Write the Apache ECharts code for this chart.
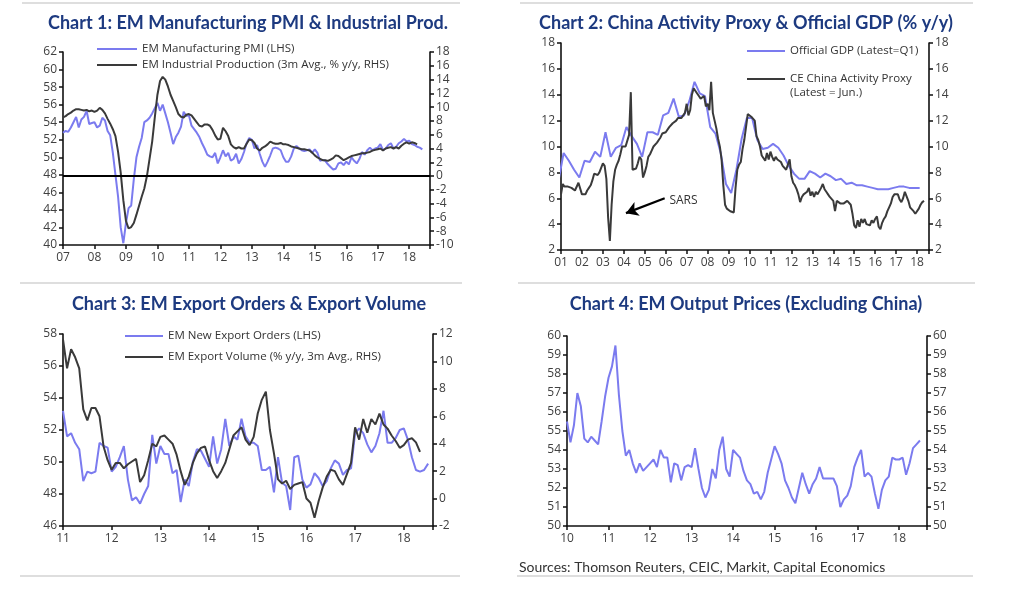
<!DOCTYPE html>
<html>
<head>
<meta charset="utf-8">
<script src="https://cdn.jsdelivr.net/npm/echarts@6/dist/echarts.min.js"></script>
<style>
html,body{margin:0;padding:0;background:#fff;}
#chart{width:1019px;height:596px;}
</style>
</head>
<body>
<div id="chart"></div>
<script>
// ---------- DATA ----------
// Chart 1 (monthly from Jan 2007)
const pmiStart = 2007;
const emPMI = [
 52.8,53.0,52.9,53.4,54.0,54.6,53.4,54.3,54.6,55.3,53.8,53.9,
 54.0,53.4,53.6,54.5,54.2,53.0,52.5,50.5,48.0,45.5,42.0,40.2,
 42.5,44.2,44.5,47.5,50.0,51.2,52.2,54.0,54.2,54.5,55.0,55.6,
 56.2,55.3,56.0,55.0,54.0,52.8,51.5,52.3,52.8,53.5,55.2,54.7,
 54.8,53.6,53.2,52.8,52.3,51.6,51.0,50.3,50.1,50.0,50.5,49.3,
 50.0,50.8,50.1,50.5,49.6,49.8,50.4,49.3,49.8,50.6,51.6,52.2,
 52.0,51.0,51.4,50.4,49.5,48.9,49.5,50.2,51.0,51.1,51.0,50.8,
 50.0,49.5,49.5,50.1,51.0,51.3,51.0,50.8,50.7,50.8,50.9,50.5,
 50.9,50.5,49.6,49.7,49.6,49.2,48.9,48.6,48.7,49.3,49.4,49.1,
 49.5,49.2,50.0,49.6,49.3,49.8,50.6,50.3,50.8,51.1,50.8,51.0,
 51.1,51.5,50.8,51.0,51.4,51.6,51.0,51.2,51.6,51.8,52.1,51.8,
 51.9,51.5,51.4,51.2,51.1,50.9
];
const emIP = [
 8.5,8.7,9.0,9.2,9.5,9.7,9.7,9.6,9.5,9.6,9.4,9.5,
 9.3,9.5,9.9,9.6,9.1,8.3,7.6,6.8,5.8,3.5,0.5,-3.5,
 -6.5,-7.6,-7.4,-6.8,-5.6,-4.3,-3.0,-1.8,0.0,2.5,5.0,8.5,
 11.8,13.8,14.4,14.0,13.0,11.8,10.9,10.0,9.0,8.6,8.5,8.9,
 9.0,8.8,8.3,7.8,7.3,7.2,7.5,7.5,7.3,6.7,5.9,5.3,
 5.4,7.0,6.5,5.8,4.6,4.2,4.0,4.2,4.0,4.0,4.7,5.3,
 5.2,4.8,4.0,3.7,4.1,4.3,4.6,5.0,4.8,4.7,4.7,4.8,
 4.6,4.6,4.5,4.3,4.2,4.1,4.0,3.9,3.9,3.8,3.7,3.4,
 3.0,2.7,2.5,2.3,2.3,2.2,2.4,2.6,3.0,2.9,2.6,2.3,
 2.5,2.7,2.9,3.0,3.1,3.2,3.3,3.3,3.4,3.5,3.7,3.8,
 3.9,4.0,3.7,4.0,4.1,4.2,4.0,4.2,4.0,4.4,4.7,4.9,
 4.7,4.9,4.8,4.6
];

// Chart 2: official GDP (quarterly, from Q4 2000), CE proxy (monthly from Jan 2001)
const gdpStartQuarter = 2000.75; // Q4 2000
const chinaGDP = [
 7.3,
 9.5,8.9,8.2,7.6, 8.9,8.8,9.6,9.2, 11.1,9.2,9.9,10.1, 11.5,10.8,10.2,9.2,
 11.1,11.1,10.9,12.4, 12.6,13.7,12.3,12.4, 13.5,15.0,14.1,13.9, 11.5,11.0,9.5,7.1,
 6.4,8.2,10.6,12.2, 12.2,10.5,9.8,9.9, 10.2,9.9,9.3,8.5, 7.9,7.5,7.5,8.1,
 7.9,7.6,7.9,7.7, 7.4,7.5,7.1,7.2, 7.0,7.0,6.9,6.8, 6.7,6.7,6.7,6.8,
 6.9,6.9,6.8,6.8, 6.8
];
const proxyStart = 2001;
const ceProxy = [
 6.3,7.1,6.9,6.8,6.9,6.8,6.8,6.7,6.6,6.5,7.2,7.1,
 6.3,6.2,6.3,6.6,6.8,7.0,7.4,7.9,8.0,7.8,8.0,7.9,
 8.7,8.5,7.5,4.5,2.7,5.5,7.3,8.2,8.6,8.9,9.4,10.0,
 9.9,10.0,10.0,10.9,14.2,8.2,8.2,8.3,8.7,9.2,9.0,7.6,
 8.0,8.5,9.2,9.4,9.7,10.0,10.1,10.3,10.5,10.7,11.0,11.0,
 11.1,11.2,11.5,11.4,11.8,11.9,12.0,12.2,12.2,12.2,12.3,12.6,
 13.3,12.4,12.8,14.0,14.5,14.4,14.1,13.9,13.7,13.6,13.9,13.1,
 13.3,12.8,15.0,12.6,12.0,11.4,10.6,10.0,9.0,7.0,5.5,5.2,
 5.1,5.0,5.1,4.9,6.8,8.2,8.6,8.8,9.8,10.5,11.5,12.5,
 12.4,12.3,12.2,12.0,10.8,10.5,10.0,9.3,9.2,8.9,9.5,9.0,
 9.6,9.2,8.9,9.2,9.0,8.9,8.8,8.5,8.5,8.2,8.3,9.0,
 7.7,7.2,7.0,6.7,6.3,5.7,6.1,6.3,6.4,6.5,6.8,6.2,
 6.5,6.1,6.5,6.3,6.3,6.8,7.1,6.7,6.5,6.3,6.1,6.1,
 5.8,5.0,5.8,5.7,5.6,5.7,5.6,5.5,5.8,5.7,5.5,4.8,
 3.9,3.7,4.3,3.8,4.4,4.1,4.4,4.0,4.1,3.9,4.3,4.1,
 4.4,4.6,3.8,3.6,4.1,4.4,4.6,5.0,5.3,5.6,6.1,6.3,
 6.2,6.3,5.9,5.7,6.0,6.5,6.6,5.8,5.3,5.2,5.0,4.8,
 4.9,5.2,5.5,5.7,5.8
];
// SARS annotation (data coordinates)
const sarsArrow = [[2005.95, 6.0], [2004.1, 4.85]];
const sarsLabel = [2006.85, 5.85];

// Chart 3 (monthly from Jan 2011)
const expStart = 2011;
const exportOrders = [
 53.2,51.6,51.8,51.2,50.8,48.8,49.4,49.3,49.4,51.2,51.0,50.9,
 49.4,49.7,50.3,51.0,48.9,47.6,47.8,47.4,48.0,48.5,51.7,49.9,
 51.0,50.5,50.5,49.3,49.5,47.5,48.9,48.5,50.0,50.8,50.7,50.2,
 49.7,51.6,49.9,50.8,52.7,51.0,51.6,51.4,52.7,51.6,51.2,51.2,
 51.0,49.5,49.5,49.7,48.1,50.3,48.7,48.5,47.0,50.3,50.4,48.9,
 48.4,48.6,49.3,49.0,48.5,48.8,49.6,50.1,49.9,49.2,49.5,49.6,
 51.8,52.1,51.8,51.1,50.6,51.0,51.8,53.2,51.2,51.2,51.5,52.0,
 52.1,51.4,50.3,49.5,49.4,49.5,49.9
];
const exportVolume = [
 11.6,9.5,10.9,10.3,9.5,6.5,5.7,6.6,6.6,6.0,3.8,2.8,
 2.1,2.6,2.6,2.2,2.5,2.7,2.9,1.2,1.7,2.8,4.0,3.8,
 4.5,4.6,4.3,4.0,3.2,2.0,1.0,1.6,2.6,3.3,3.7,3.8,
 2.8,2.0,1.5,2.0,2.6,3.6,4.6,4.9,5.2,4.3,3.9,4.5,
 6.2,7.2,7.8,5.0,3.3,1.4,1.1,1.3,0.7,1.0,1.1,1.2,
 0.0,-0.3,-1.4,-0.2,0.8,1.6,2.1,2.0,1.4,1.0,1.8,2.6,
 5.2,4.3,5.8,4.8,5.8,5.4,6.2,5.4,5.1,4.6,4.2,3.7,
 3.9,4.3,4.4,4.1,3.4
];

// Chart 4 (monthly from Jan 2010)
const priceStart = 2010;
const outputPrices = [
 55.5,54.4,55.3,57.0,56.3,54.6,54.4,54.7,54.5,54.3,55.5,56.8,
 57.8,58.4,59.5,56.9,55.0,53.7,54.0,53.3,52.8,53.3,52.9,53.1,
 53.3,53.5,53.1,54.0,53.6,53.6,52.3,53.3,53.2,52.4,53.1,53.2,
 53.1,54.1,53.0,52.0,51.5,51.9,53.0,52.5,54.0,54.7,53.0,52.6,
 54.0,53.8,53.6,52.9,52.4,52.2,51.7,51.8,51.4,51.8,52.8,53.5,
 54.2,53.8,53.3,52.4,52.0,51.5,51.2,52.0,52.8,52.2,51.7,52.2,
 52.5,53.1,52.5,52.5,52.5,52.5,52.1,51.0,51.4,51.6,52.1,53.1,
 53.6,54.0,52.6,52.8,52.6,51.7,50.9,51.9,52.4,52.6,53.6,53.5,
 53.5,53.6,52.7,53.3,54.1,54.3,54.5
];

// ---------- STYLE ----------
const FONT = 'Open Sans';
const TFONT = 'Lato';
const BLUE = '#7b7bef';
const DARK = '#3a3a3a';
const TITLE_COLOR = '#1d3a80';
const LABEL_COLOR = '#404040';

function monthly(start, arr){ return arr.map((v,i)=>[start + i/12, v]); }
function quarterly(start, arr){ return arr.map((v,i)=>[start + 0.125 + i*0.25, v]); }

const axisLine = {show:true, onZero:false, lineStyle:{color:'#111', width:1.6}};
const axisTick = {show:true, length:4, lineStyle:{color:'#111', width:1.5}};
const yLabel = {color:LABEL_COLOR, fontSize:12, fontFamily:FONT, margin:6};
function xAxis(grid, min, max){
  return {type:'value', gridIndex:grid, min:min, max:max, interval:1,
    axisLine:axisLine, axisTick:axisTick, splitLine:{show:false},
    axisLabel:{color:LABEL_COLOR, fontSize:12, fontFamily:FONT, margin:7,
      formatter:v=>{const r=Math.round(v); return Math.abs(v-r)<1e-6 ? String(r%100).padStart(2,'0') : '';}}};
}
function yAxis(grid, pos, min, max, interval){
  return {type:'value', gridIndex:grid, position:pos, min:min, max:max, interval:interval,
    axisLine:axisLine, axisTick:axisTick, splitLine:{show:false}, axisLabel:yLabel};
}
function line(name, xi, yi, data, color, extra){
  return Object.assign({name:name, type:'line', xAxisIndex:xi, yAxisIndex:yi, data:data,
    symbol:'none', showSymbol:false, smooth:false, color:color,
    lineStyle:{color:color, width:2}, animation:false}, extra||{});
}
const legendText = {color:'#333', fontSize:11.5, fontFamily:FONT};
function legend(left, top, gap, w, names){
  return {left:left, top:top, padding:0, orient:'vertical', icon:'rect', itemWidth:w, itemHeight:2, itemGap:gap,
    selectedMode:false, textStyle:legendText, data:names};
}

const chart = echarts.init(document.getElementById('chart'), null, {renderer:'canvas'});
const titleFont = 'bold 18px ' + TFONT;
const sep = (x1,y,x2)=>({type:'line', silent:true, shape:{x1:x1,y1:y,x2:x2,y2:y}, style:{stroke:'#bdbdbd', lineWidth:1}});
const title = (t,x,y)=>({type:'text', silent:true, x:x, y:y, style:{text:t, font:titleFont, fill:TITLE_COLOR, textAlign:'center', textVerticalAlign:'middle'}});

chart.setOption({
  animation:false,
  backgroundColor:'#fff',
  grid:[
    {left:63, top:52, width:367, height:193},
    {left:561, top:43, width:368, height:207},
    {left:63, top:334, width:370, height:192},
    {left:567, top:336, width:360, height:190}
  ],
  xAxis:[
    xAxis(0, 2007, 2018.66),
    xAxis(1, 2001, 2018.57),
    xAxis(2, 2011, 2018.6),
    xAxis(3, 2010, 2018.67)
  ],
  yAxis:[
    yAxis(0,'left',40,62,2),
    yAxis(0,'right',-10,18,2),
    yAxis(1,'left',2,18,2),
    yAxis(1,'right',2,18,2),
    yAxis(2,'left',46,58,2),
    yAxis(2,'right',-2,12,2),
    yAxis(3,'left',50,60,1),
    yAxis(3,'right',50,60,1)
  ],
  legend:[
    legend(97, 43, 4, 40, ['EM Manufacturing PMI (LHS)','EM Industrial Production (3m Avg., % y/y, RHS)']),
    legend(747, 45, 16, 38, ['Official GDP (Latest=Q1)','CE China Activity Proxy']),
    legend(125, 330, 9, 38, ['EM New Export Orders (LHS)','EM Export Volume (% y/y, 3m Avg., RHS)'])
  ],
  series:[
    line('EM Manufacturing PMI (LHS)',0,0,monthly(pmiStart, emPMI),BLUE),
    line('EM Industrial Production (3m Avg., % y/y, RHS)',0,1,monthly(pmiStart, emIP),DARK,{
      markLine:{silent:true, symbol:['none','none'], label:{show:false}, animation:false,
        lineStyle:{color:'#000', width:2, type:'solid'}, data:[{yAxis:0}]}
    }),
    line('Official GDP (Latest=Q1)',1,2,quarterly(gdpStartQuarter, chinaGDP),BLUE),
    line('CE China Activity Proxy',1,2,monthly(proxyStart, ceProxy),DARK,{
      markLine:{silent:true, symbol:['none','arrow'], symbolSize:[11,12], label:{show:false}, animation:false,
        lineStyle:{color:'#000', width:2.2, type:'solid'},
        data:[[{coord:sarsArrow[0]},{coord:sarsArrow[1]}]]},
      markPoint:{silent:true, animation:false, symbol:'circle', symbolSize:0,
        label:{show:true, formatter:'SARS', position:'inside', color:'#333', fontSize:12, fontFamily:FONT},
        data:[{coord:sarsLabel}]}
    }),
    line('EM New Export Orders (LHS)',2,4,monthly(expStart, exportOrders),BLUE),
    line('EM Export Volume (% y/y, 3m Avg., RHS)',2,5,monthly(expStart, exportVolume),DARK),
    line('EM Output Prices',3,6,monthly(priceStart, outputPrices),BLUE)
  ],
  graphic:[
    sep(22,3,460), sep(520,3,973),
    sep(20,283,462), sep(518,283,975),
    sep(20,576,460), sep(517,576,973),
    title('Chart 1: EM Manufacturing PMI & Industrial Prod.', 248, 23),
    title('Chart 2: China Activity Proxy & Official GDP (% y/y)', 746, 23),
    title('Chart 3: EM Export Orders & Export Volume', 249, 304),
    title('Chart 4: EM Output Prices (Excluding China)', 746, 304),
    {type:'text', silent:true, x:790, y:93, style:{text:'(Latest = Jun.)', font:'11.5px "Open Sans"', fill:'#333', textVerticalAlign:'middle'}},
    {type:'text', silent:true, x:519, y:567, style:{text:'Sources: Thomson Reuters, CEIC, Markit, Capital Economics', font:'14px Lato', fill:'#333', textVerticalAlign:'middle'}}
  ]
});
</script>
</body>
</html>
